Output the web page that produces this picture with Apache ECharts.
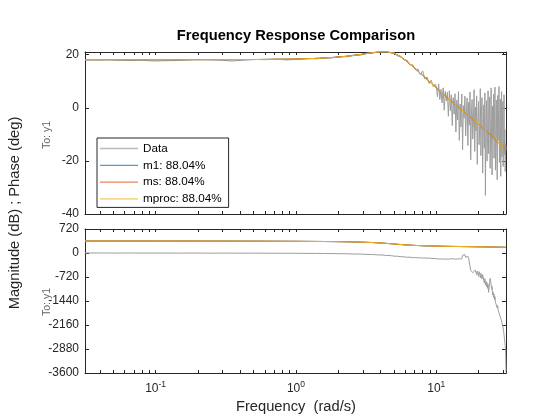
<!DOCTYPE html>
<html>
<head>
<meta charset="utf-8">
<script src="https://cdn.jsdelivr.net/npm/echarts@6/dist/echarts.min.js"></script>
<style>
html, body { margin: 0; padding: 0; background: #fff; }
#chart { width: 560px; height: 420px; }
</style>
</head>
<body>
<div id="chart"></div>
<script>
// measured frequency response (rad/s, dB, deg)
var freqData = [
    0.0314, 0.038, 0.046, 0.055, 0.066, 0.08, 0.096, 0.115, 0.14, 0.17,
    0.2, 0.24, 0.29, 0.35, 0.42, 0.5, 0.6, 0.72, 0.86,
    1.0, 1.2, 1.4, 1.6, 1.8, 2.0, 2.3, 2.6, 2.9, 3.2,
    3.5, 3.8, 4.1, 4.4, 4.7, 5.0, 5.3, 5.6, 5.9, 6.2,
    6.5, 6.8, 7.1, 7.4, 7.7, 8.0, 8.3, 8.6, 8.9, 9.2,
    9.5, 9.8,
    10.0, 10.2, 10.4, 10.6, 10.8, 11.0, 11.2, 11.4, 11.6, 11.8,
    12.0, 12.2, 12.4, 12.6, 12.8, 13.0, 13.2, 13.4, 13.6, 13.8,
    14.0, 14.2, 14.4, 14.6, 14.8, 15.0, 15.2, 15.4, 15.6, 15.8,
    16.0, 16.2, 16.4, 16.6, 16.8, 17.0, 17.2, 17.4, 17.6, 17.8,
    18.0, 18.2, 18.4, 18.6, 18.8, 19.0, 19.2, 19.4, 19.6, 19.8,
    20.0, 20.2, 20.4, 20.6, 20.8, 21.0, 21.2, 21.4, 21.6, 21.8,
    22.0, 22.2, 22.4, 22.6, 22.8, 23.0, 23.2, 23.4, 23.6, 23.8,
    24.0, 24.2, 24.4, 24.6, 24.8, 25.0, 25.2, 25.4, 25.6, 25.8,
    26.0, 26.2, 26.4, 26.6, 26.8, 27.0, 27.2, 27.4, 27.6, 27.8,
    28.0, 28.2, 28.4, 28.6, 28.8, 29.0, 29.2, 29.4, 29.6, 29.8,
    30.0, 30.2, 30.4, 30.6, 30.8, 31.0, 31.2,
    31.4
];
var magData = [
    18.1, 18.0, 18.1, 17.9, 17.8, 17.9, 17.6, 17.7, 17.8, 18.0,
    18.2, 18.1, 17.9, 17.6, 17.9, 18.2, 18.1, 18.3, 18.0,
    18.2, 18.6, 18.4, 18.9, 18.7, 19.3, 19.2, 19.9, 19.8, 20.6,
    20.5, 21.0, 20.9, 21.0, 20.7, 20.8, 19.5, 19.4, 17.9, 17.9,
    16.1, 16.2, 14.3, 14.6, 12.4, 13.9, 10.8, 11.6, 9.1, 10.4,
    8.0, 8.9,
    8.1, 4.2, 9.0, 3.1, 6.9, 1.8, 7.5, -0.9, 6.2, 2.6,
    5.8, -3.2, 6.4, -1.1, 4.9, -6.7, 3.8, -2.4, 5.3, -9.1,
    2.9, -4.6, 6.1, -12.3, 1.4, -7.2, 5.2, -15.8, 0.8, -3.9,
    4.4, -10.6, -1.8, 3.7, -14.2, 2.0, -6.5, 5.9, -19.6, -2.7,
    3.1, -11.8, -5.0, 6.8, -16.4, 0.2, -8.7, 4.5, -21.3, -3.6,
    2.4, -13.9, -7.1, 7.2, -18.0, -1.5, 3.8, -24.6, -9.4, 1.1,
    -15.2, 5.6, -33.0, -4.8, 2.7, -20.1, -10.9, 6.4, -17.3, -2.2,
    4.1, -22.8, -7.6, 7.5, -14.5, -25.3, 0.6, -11.2, 5.1, -19.0,
    -4.3, 7.8, -23.5, -9.8, 2.9, -16.7, -27.1, 4.6, -12.4, -1.7,
    8.0, -20.6, -7.9, 3.3, -25.8, -14.0, 6.1, -18.5, -5.2, 2.4,
    -22.1, -11.6, 4.9, -17.8, -8.2, -24.0, -13.5,
    -16.0
];
var phaseData = [
    -0.3, 1.2, -0.8, -1.0, 0.6, -1.8, -2.5, -1.1, -3.4, -2.0,
    -2.2, -4.6, -2.9, -3.5, -5.2, -4.8, -5.7, -7.4, -7.8,
    -8.1, -12.4, -11.6, -16.8, -15.9, -21.7, -22.8, -30.9, -32.1, -42.6,
    -44.3, -56.8, -59.4, -73.9, -77.2, -93.5, -97.1, -112.4, -114.2, -127.8,
    -126.3, -139.6, -135.2, -148.1, -141.7, -153.8, -147.2, -158.3, -150.6, -161.4,
    -153.2, -164.9,
    -166, -174, -169, -181, -172, -178, -168, -185, -175, -180,
    -171, -187, -176, -182, -169, -190, -177, -183, -172, -186,
    -179, -173, -188, -175, -181, -167, -178, -70, -52, -110,
    -48, -130, -75, -150, -95, -160, -140, -178, -520, -545,
    -505, -590, -530, -560, -620, -515, -575, -650, -540, -600,
    -700, -560, -630, -745, -610, -690, -780, -650, -720, -830,
    -900, -770, -960, -850, -1010, -890, -1060, -940, -1180, -1030,
    -880, -760, -820, -940, -1090, -1010, -1260, -1170, -1330, -1240,
    -1400, -1310, -1480, -1420, -1560, -1500, -1650, -1580, -1720, -1660,
    -1790, -1730, -1880, -1850, -1940, -1900, -2030, -2110, -2070, -2180,
    -2280, -2350, -2450, -2560, -2690, -2780, -2900,
    -3560
];

// identified models (m1, ms and mproc give the same fit)
var freqModel = [0.0314, 0.05, 0.1, 0.2, 0.5, 1, 1.5, 2, 2.5, 3, 3.5, 4, 4.5, 5, 5.5,
    6, 7, 8, 9, 10, 12, 14, 16, 18, 20, 23, 26, 28, 31.4];
var magModel = [18.1, 18.1, 18.1, 18.11, 18.16, 18.35, 18.65, 19.08, 19.61, 20.19, 20.75, 21.12, 21.08, 20.48, 19.39,
    17.99, 14.97, 12.18, 9.72, 7.5, 3.8, 0.8, -1.8, -4.0, -6.3, -9.0, -11.7, -13.3, -15.7];
var phaseModel = [359.7, 359.6, 359.1, 358.3, 355.6, 351, 345.9, 340.1, 333.1, 324.5, 313.8, 300.6, 285.5, 270, 255.9,
    244.2, 227.9, 217.9, 211.4, 206.9, 200, 195.5, 192, 189, 186, 182, 178, 175.5, 171];

var seriesNames = ['Data', 'm1: 88.04%', 'ms: 88.04%', 'mproc: 88.04%'];
var seriesColors = ['#9d9d9d', '#0072BD', '#D95319', '#EDB120'];

var xMajor = [0.1, 1, 10];
var xTicks = [0.04, 0.05, 0.06, 0.07, 0.08, 0.09, 0.1, 0.2, 0.3, 0.4, 0.5, 0.6, 0.7, 0.8, 0.9,
    1, 2, 3, 4, 5, 6, 7, 8, 9, 10, 20, 30];
var magTicks = [-40, -20, 0, 20];
var phaseTicks = [-3600, -2880, -2160, -1440, -720, 0, 720];

var FONT = '"Liberation Sans", Arial, Helvetica, sans-serif';
var AX = '#262626';

function pairs(xs, ys) {
    return xs.map(function (x, i) { return [x, ys[i]]; });
}

function xAxisDef(grid, pos, labels) {
    return {
        type: 'log', logBase: 10, gridIndex: grid, position: pos,
        min: 0.0314, max: 31.4,
        axisLine: { show: true, onZero: false, lineStyle: { color: AX, width: 1 } },
        axisTick: { show: true, inside: true, length: 3, customValues: xTicks, lineStyle: { color: AX } },
        minorTick: { show: false },
        splitLine: { show: false },
        axisLabel: {
            show: labels, customValues: xMajor, margin: 7,
            formatter: function (v) {
                return '{b|10}{s|' + Math.round(Math.log10(v)) + '}';
            },
            rich: {
                b: { fontSize: 12, fontFamily: FONT, color: AX },
                s: { fontSize: 8.5, fontFamily: FONT, color: AX, padding: [0, 0, 9, 0] }
            }
        }
    };
}

function yAxisDef(grid, pos, lo, hi, ticks, labels) {
    return {
        type: 'value', gridIndex: grid, position: pos,
        min: lo, max: hi,
        axisLine: { show: true, onZero: false, lineStyle: { color: AX, width: 1 } },
        axisTick: { show: true, inside: true, length: 4, customValues: ticks, lineStyle: { color: AX } },
        splitLine: { show: false },
        axisLabel: {
            show: labels, customValues: ticks, margin: 6,
            fontSize: 12, fontFamily: FONT, color: AX,
            formatter: function (v) { return String(v); }
        }
    };
}

var series = [];
seriesNames.forEach(function (name, k) {
    var isData = k === 0;
    var fx = isData ? freqData : freqModel;
    var common = {
        name: name, type: 'line', showSymbol: false, symbol: 'none',
        lineStyle: { width: 1, color: seriesColors[k] },
        itemStyle: { color: seriesColors[k] },
        emphasis: { disabled: true }, z: 2 + k
    };
    series.push(Object.assign({}, common, {
        xAxisIndex: 0, yAxisIndex: 0,
        data: pairs(fx, isData ? magData : magModel)
    }));
    series.push(Object.assign({}, common, {
        xAxisIndex: 2, yAxisIndex: 2,
        data: pairs(fx, isData ? phaseData : phaseModel)
    }));
});

var chart = echarts.init(document.getElementById('chart'));
chart.setOption({
    animation: false,
    backgroundColor: '#fff',
    grid: [
        { left: 85, top: 52, width: 421, height: 162 },
        { left: 85, top: 229, width: 421, height: 144 }
    ],
    xAxis: [
        xAxisDef(0, 'bottom', false),
        xAxisDef(0, 'top', false),
        xAxisDef(1, 'bottom', true),
        xAxisDef(1, 'top', false)
    ],
    yAxis: [
        yAxisDef(0, 'left', -40, 21, magTicks, true),
        yAxisDef(0, 'right', -40, 21, magTicks, false),
        yAxisDef(1, 'left', -3600, 720, phaseTicks, true),
        yAxisDef(1, 'right', -3600, 720, phaseTicks, false)
    ],
    legend: {
        data: seriesNames,
        orient: 'vertical',
        left: 97, top: 138,
        icon: 'rect',
        itemWidth: 38, itemHeight: 1.3, itemGap: 3.8,
        padding: [4, 7, 2, 3],
        borderColor: '#262626', borderWidth: 1,
        backgroundColor: '#fff',
        selectedMode: false,
        itemStyle: { opacity: 0.7 },
        textStyle: { fontSize: 11.7, fontFamily: FONT, color: '#000', lineHeight: 13 }
    },
    graphic: [
        { type: 'text', x: 296, y: 36, style: { text: 'Frequency Response Comparison', font: 'bold 14.7px ' + FONT, fill: '#000', align: 'center', verticalAlign: 'middle' } },
        { type: 'text', x: 296, y: 407, style: { text: 'Frequency  (rad/s)', font: '14.7px ' + FONT, fill: AX, align: 'center', verticalAlign: 'middle' } },
        { type: 'text', x: 15, y: 213, rotation: Math.PI / 2, style: { text: 'Magnitude (dB) ; Phase (deg)', font: '14.7px ' + FONT, fill: AX, align: 'center', verticalAlign: 'middle' } },
        { type: 'text', x: 47, y: 135, rotation: Math.PI / 2, style: { text: 'To: y1', font: '10.5px ' + FONT, fill: '#666', align: 'center', verticalAlign: 'middle' } },
        { type: 'text', x: 47, y: 302, rotation: Math.PI / 2, style: { text: 'To: y1', font: '10.5px ' + FONT, fill: '#666', align: 'center', verticalAlign: 'middle' } }
    ],
    series: series
});
</script>
</body>
</html>
